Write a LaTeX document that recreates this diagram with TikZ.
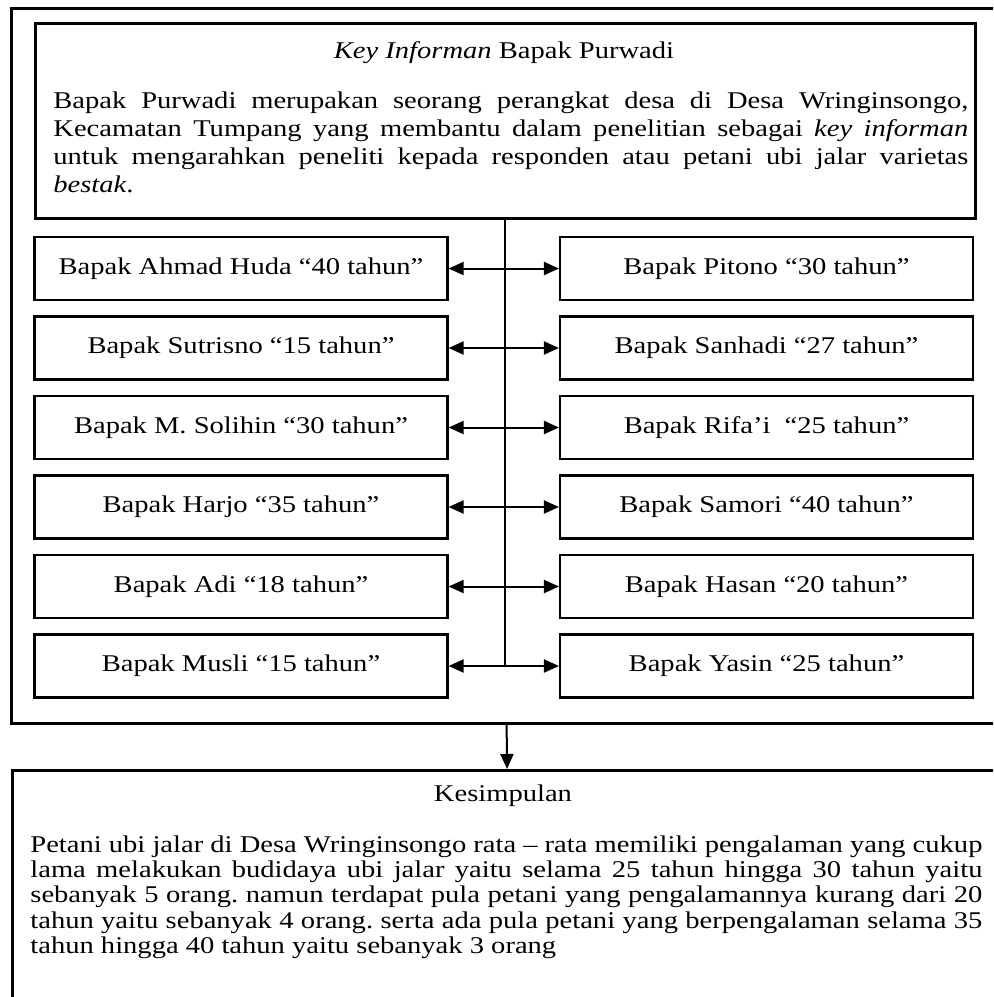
\documentclass[tikz,border=0pt]{standalone}
\usepackage{fontspec}
\setmainfont{Liberation Serif}[FakeStretch=1.19]
\usetikzlibrary{arrows.meta}
\frenchspacing

\tikzset{
  heavy/.style={draw, line width=1.6pt, inner sep=0pt, anchor=north west},
  person/.style={draw, line width=1.05pt, inner sep=0pt, anchor=center,
                 minimum width=206.5pt, minimum height=31.5pt},
  link/.style={line width=1pt, {Triangle[length=7.5pt,width=6.5pt]}-{Triangle[length=7.5pt,width=6.5pt]}},
  down/.style={line width=1pt, -{Triangle[length=7.5pt,width=6.5pt]}},
  spine/.style={line width=1pt},
  textline/.style={anchor=base west, inner sep=0pt},
}
\newcommand{\bodyfont}{\fontsize{12pt}{13pt}\selectfont\frenchspacing}
\newcommand{\jline}[2]{\makebox[#1][s]{#2}}

\begin{document}
\begin{tikzpicture}[x=0.5pt, y=-0.5pt, font=\bodyfont]
  \useasboundingbox (0,0) rectangle (993,997);
  \clip (0,0) rectangle (993,997);

  % outer frame and key informant box
  \node[heavy, minimum width=495.5pt, minimum height=357.5pt] (frame) at (9.5,6.5) {};
  \node[heavy, minimum width=470pt, minimum height=97.75pt] (key) at (33.5,21.5) {};

  \node[anchor=base, inner sep=0pt] (keytitle) at (504,58) {\textit{Key Informan} Bapak Purwadi};
  \node[textline] (kl1) at (53,108)   {\jline{457.5pt}{Bapak Purwadi merupakan seorang perangkat desa di Desa Wringinsongo,}};
  \node[textline] (kl2) at (53,136.3) {\jline{457.5pt}{Kecamatan Tumpang yang membantu dalam penelitian sebagai \textit{key informan}}};
  \node[textline] (kl3) at (53,164.6) {\jline{457.5pt}{untuk mengarahkan peneliti kepada responden atau petani ubi jalar varietas}};
  \node[textline] (kl4) at (53,192.9) {\textit{bestak}.};

  % respondents, left column
  \node[person] (l1) at (241,268.5) {Bapak Ahmad Huda “40 tahun”};
  \node[person] (l2) at (241,348)   {Bapak Sutrisno “15 tahun”};
  \node[person] (l3) at (241,427.5) {Bapak M. Solihin “30 tahun”};
  \node[person] (l4) at (241,507)   {Bapak Harjo “35 tahun”};
  \node[person] (l5) at (241,586.5) {Bapak Adi “18 tahun”};
  \node[person] (l6) at (241,666)   {Bapak Musli “15 tahun”};

  % respondents, right column
  \node[person] (r1) at (766.5,268.5) {Bapak Pitono “30 tahun”};
  \node[person] (r2) at (766.5,348)   {Bapak Sanhadi “27 tahun”};
  \node[person] (r3) at (766.5,427.5) {Bapak Rifa’i\ \ “25 tahun”};
  \node[person] (r4) at (766.5,507)   {Bapak Samori “40 tahun”};
  \node[person] (r5) at (766.5,586.5) {Bapak Hasan “20 tahun”};
  \node[person] (r6) at (766.5,666)   {Bapak Yasin “25 tahun”};

  % spine from the key informant down to the last pair
  \draw[spine] (key.south) -- (key.south |- l6.east);

  \foreach \i in {1,...,6} {
    \draw[link] (l\i.east) -- (r\i.west);
  }

  % conclusion box
  \node[heavy, minimum width=495pt, minimum height=125pt] (summary) at (10.5,769) {};
  \draw[down] (frame.south) -- (summary.north);

  \node[anchor=base, inner sep=0pt] (sumtitle) at (503,801) {Kesimpulan};
  \node[textline] (sl1) at (30,852.5) {\jline{476pt}{Petani ubi jalar di Desa Wringinsongo rata – rata memiliki pengalaman yang cukup}};
  \node[textline] (sl2) at (30,877.7) {\jline{476pt}{lama melakukan budidaya ubi jalar yaitu selama 25 tahun hingga 30 tahun yaitu}};
  \node[textline] (sl3) at (30,902.9) {\jline{476pt}{sebanyak 5 orang. namun terdapat pula petani yang pengalamannya kurang dari 20}};
  \node[textline] (sl4) at (30,928.1) {\jline{476pt}{tahun yaitu sebanyak 4 orang. serta ada pula petani yang berpengalaman selama 35}};
  \node[textline] (sl5) at (30,953.3) {tahun hingga 40 tahun yaitu sebanyak 3 orang};
\end{tikzpicture}
\end{document}
